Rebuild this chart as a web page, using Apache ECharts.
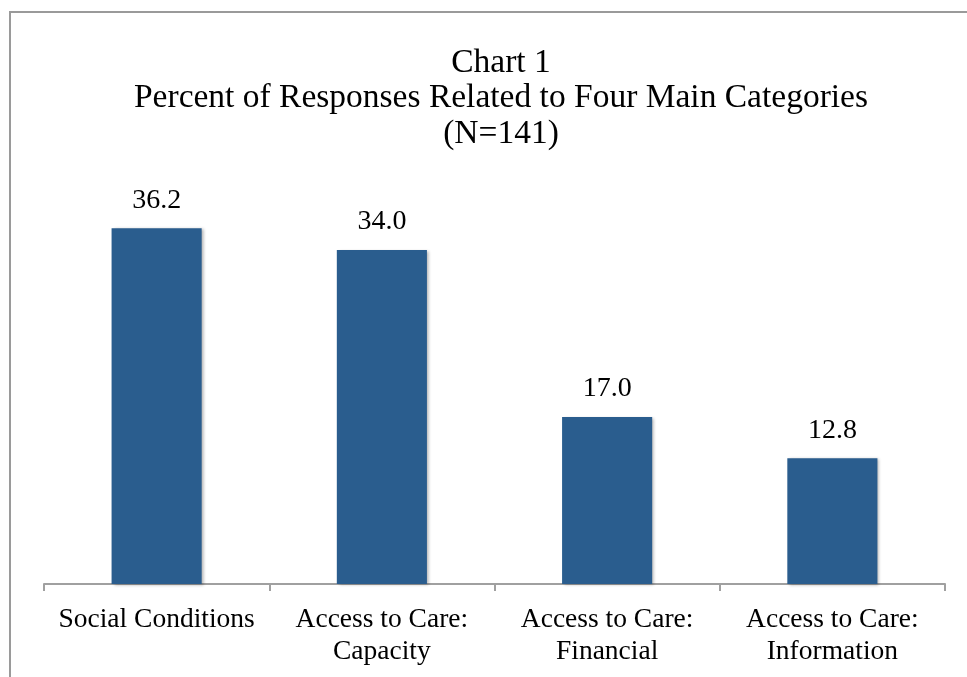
<!DOCTYPE html>
<html>
<head>
<meta charset="utf-8">
<style type="text/css">
    html, body {margin: 0; padding: 0; background: #fff;}
    #chart {width: 967px; height: 677px;}
</style>
</head>
<body>
<div id="chart"></div>
<script src="https://cdn.jsdelivr.net/npm/echarts@6/dist/echarts.min.js"></script>
<script>
	// data
	var categories = ['Social Conditions', 'Access to Care:\nCapacity', 'Access to Care:\nFinancial', 'Access to Care:\nInformation'];
	var percents = [36.2, 34.0, 17.0, 12.8];
	var titleLines = ['Chart 1', 'Percent of Responses Related to Four Main Categories', '(N=141)'];

	var serif = '"Liberation Serif", "DejaVu Serif", serif';
	var myChart = echarts.init(document.getElementById('chart'));
	var option = {
		animation: false,
		backgroundColor: '#fff',
		title: {
			text: titleLines.join('\n'),
			left: 496,
			top: 40,
			textAlign: 'center',
			textStyle: {
				fontFamily: serif,
				fontSize: 33.5,
				fontWeight: 'normal',
				lineHeight: 35.5,
				color: '#000'
			}
		},
		graphic: [{
			type: 'rect',
			shape: {x: 10, y: 12, width: 1000, height: 700},
			style: {fill: 'none', stroke: '#9a9a9a', lineWidth: 2},
			silent: true
		}],
		grid: {
			left: 44,
			right: 22,
			top: 191,
			bottom: 93
		},
		xAxis: {
			type: 'category',
			data: categories,
			axisLine: {lineStyle: {color: '#a0a0a0', width: 2}},
			axisTick: {show: true, length: 7, lineStyle: {color: '#a0a0a0', width: 2}},
			axisLabel: {
				fontFamily: serif,
				fontSize: 27.5,
				lineHeight: 32,
				color: '#000',
				margin: 20,
				interval: 0
			}
		},
		yAxis: {
			type: 'value',
			min: 0,
			max: 40,
			show: false,
			splitLine: {show: false}
		},
		series: [{
			type: 'bar',
			data: percents,
			barCategoryGap: '60%',
			itemStyle: {
				color: '#2A5D8E',
				shadowColor: 'rgba(0,0,0,0.3)',
				shadowBlur: 3,
				shadowOffsetX: 2,
				shadowOffsetY: 1
			},
			label: {
				show: true,
				position: 'top',
				distance: 14,
				fontFamily: serif,
				fontSize: 28,
				color: '#000',
				formatter: function (p) {
					return p.value.toFixed(1);
				}
			}
		}]
	};
	myChart.setOption(option);
</script>
</body>
</html>
